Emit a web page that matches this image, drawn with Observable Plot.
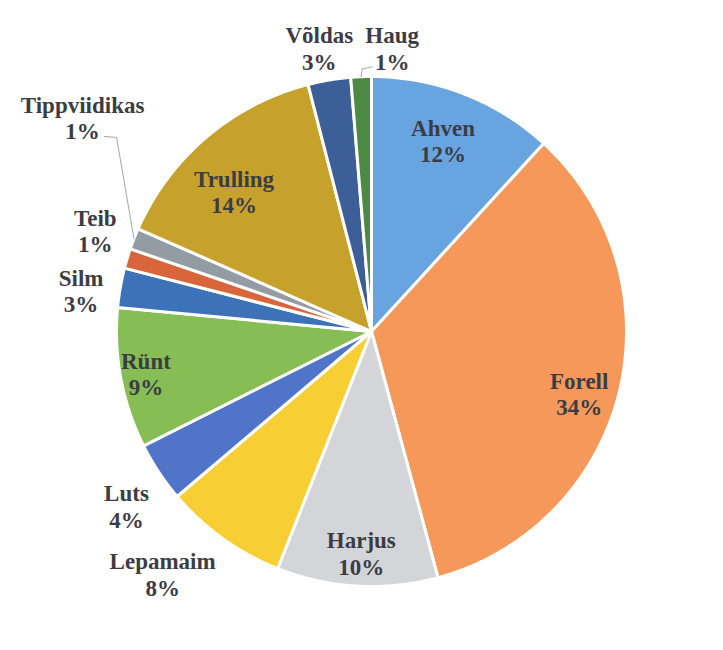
<!DOCTYPE html>
<html><head><meta charset="utf-8">
<script src="https://cdn.jsdelivr.net/npm/d3@7"></script>
<script src="https://cdn.jsdelivr.net/npm/@observablehq/plot@0.6"></script>
<style>body{margin:0;background:#fff}</style>
</head><body><div id="chart"></div>
<script>
// data (clockwise from 12 o'clock)
const species = ["Ahven","Forell","Harjus","Lepamaim","Luts","Rünt","Silm","Teib","Tippviidikas","Trulling","Võldas","Haug"];
const shares = [11.8, 34.0, 10.2, 7.8, 3.8, 8.9, 2.5, 1.25, 1.35, 14.4, 2.7, 1.3];
const percentLabels = ["12%","34%","10%","8%","4%","9%","3%","1%","1%","14%","3%","1%"];
const colors = ["#68a4e0","#f5985a","#d3d5d8","#f7cf35","#4f74c8","#86bd55","#3e72b8","#d9663a","#939ca2","#c6a22c","#3c5f98","#4c8a44"];

// layout (label placement relative to slice mid-angle, in radius units / degrees)
const labelRadius = [0.80, 0.85, 0.87, 1.255, 1.18, 0.90, 1.15, 1.153, 1.41, 0.77, 1.13, 1.115];
const labelShift  = [-0.7, 2.9, -0.6, 5.1, -2, 0, -1.9, 3.4, 15.2, -4.1, -0.9, 6.5];
const leaders = {"Tippviidikas": [[34, 20], [22, 19]], "Haug": [[-30, 21], [-20, 19]]};

const W = 723, H = 650, cx = 371, cy = 331, R = 255;
const rad = Math.PI / 180;
const polar = (deg, r) => ({x: r * Math.sin(deg * rad), y: r * Math.cos(deg * rad)});

const total = d3.sum(shares);
let acc = 0;
const slices = species.map((name, i) => {
  const a0 = acc / total * 360; acc += shares[i];
  const a1 = acc / total * 360;
  return {name, a0, a1, mid: (a0 + a1) / 2, i};
});

const slicePts = [];
for (const s of slices) {
  slicePts.push({name: s.name, x: 0, y: 0});
  const n = Math.max(2, Math.ceil((s.a1 - s.a0) / 0.5));
  for (let k = 0; k <= n; k++) {
    const p = polar(s.a0 + (s.a1 - s.a0) * k / n, 1);
    slicePts.push({name: s.name, ...p});
  }
  slicePts.push({name: s.name, x: 0, y: 0});
}

const labels = slices.map(s => {
  const p = polar(s.mid + labelShift[s.i], labelRadius[s.i]);
  return {...p, text: s.name + "\n" + percentLabels[s.i]};
});

const leaderPts = [];
for (const s of slices) {
  const L = leaders[s.name]; if (!L) continue;
  const lab = labels[s.i];
  leaderPts.push({name: s.name, ...polar(s.mid, 1.0)});
  for (const [dx, dy] of L) leaderPts.push({name: s.name, x: lab.x + dx / R, y: lab.y - dy / R});
}

const chart = Plot.plot({
  width: W, height: H,
  margin: 0,
  x: {domain: [-cx / R, (W - cx) / R], axis: null},
  y: {domain: [-(H - cy) / R, cy / R], axis: null},
  color: {domain: species, range: colors},
  style: {background: "#fff"},
  marks: [
    Plot.line(slicePts, {x: "x", y: "y", z: "name", fill: "name", stroke: "#fff", strokeWidth: 3, strokeLinejoin: "round", curve: "linear"}),
    Plot.line(leaderPts, {x: "x", y: "y", z: "name", stroke: "#9a9a9a", strokeWidth: 0.9}),
    Plot.text(labels, {x: "x", y: "y", text: "text", fontSize: 23, fontWeight: "bold", fontFamily: "Liberation Serif", lineHeight: 1.15, fill: "#3c3c44", lineAnchor: "middle"})
  ]
});
document.getElementById("chart").appendChild(chart);
</script>
</body></html>
